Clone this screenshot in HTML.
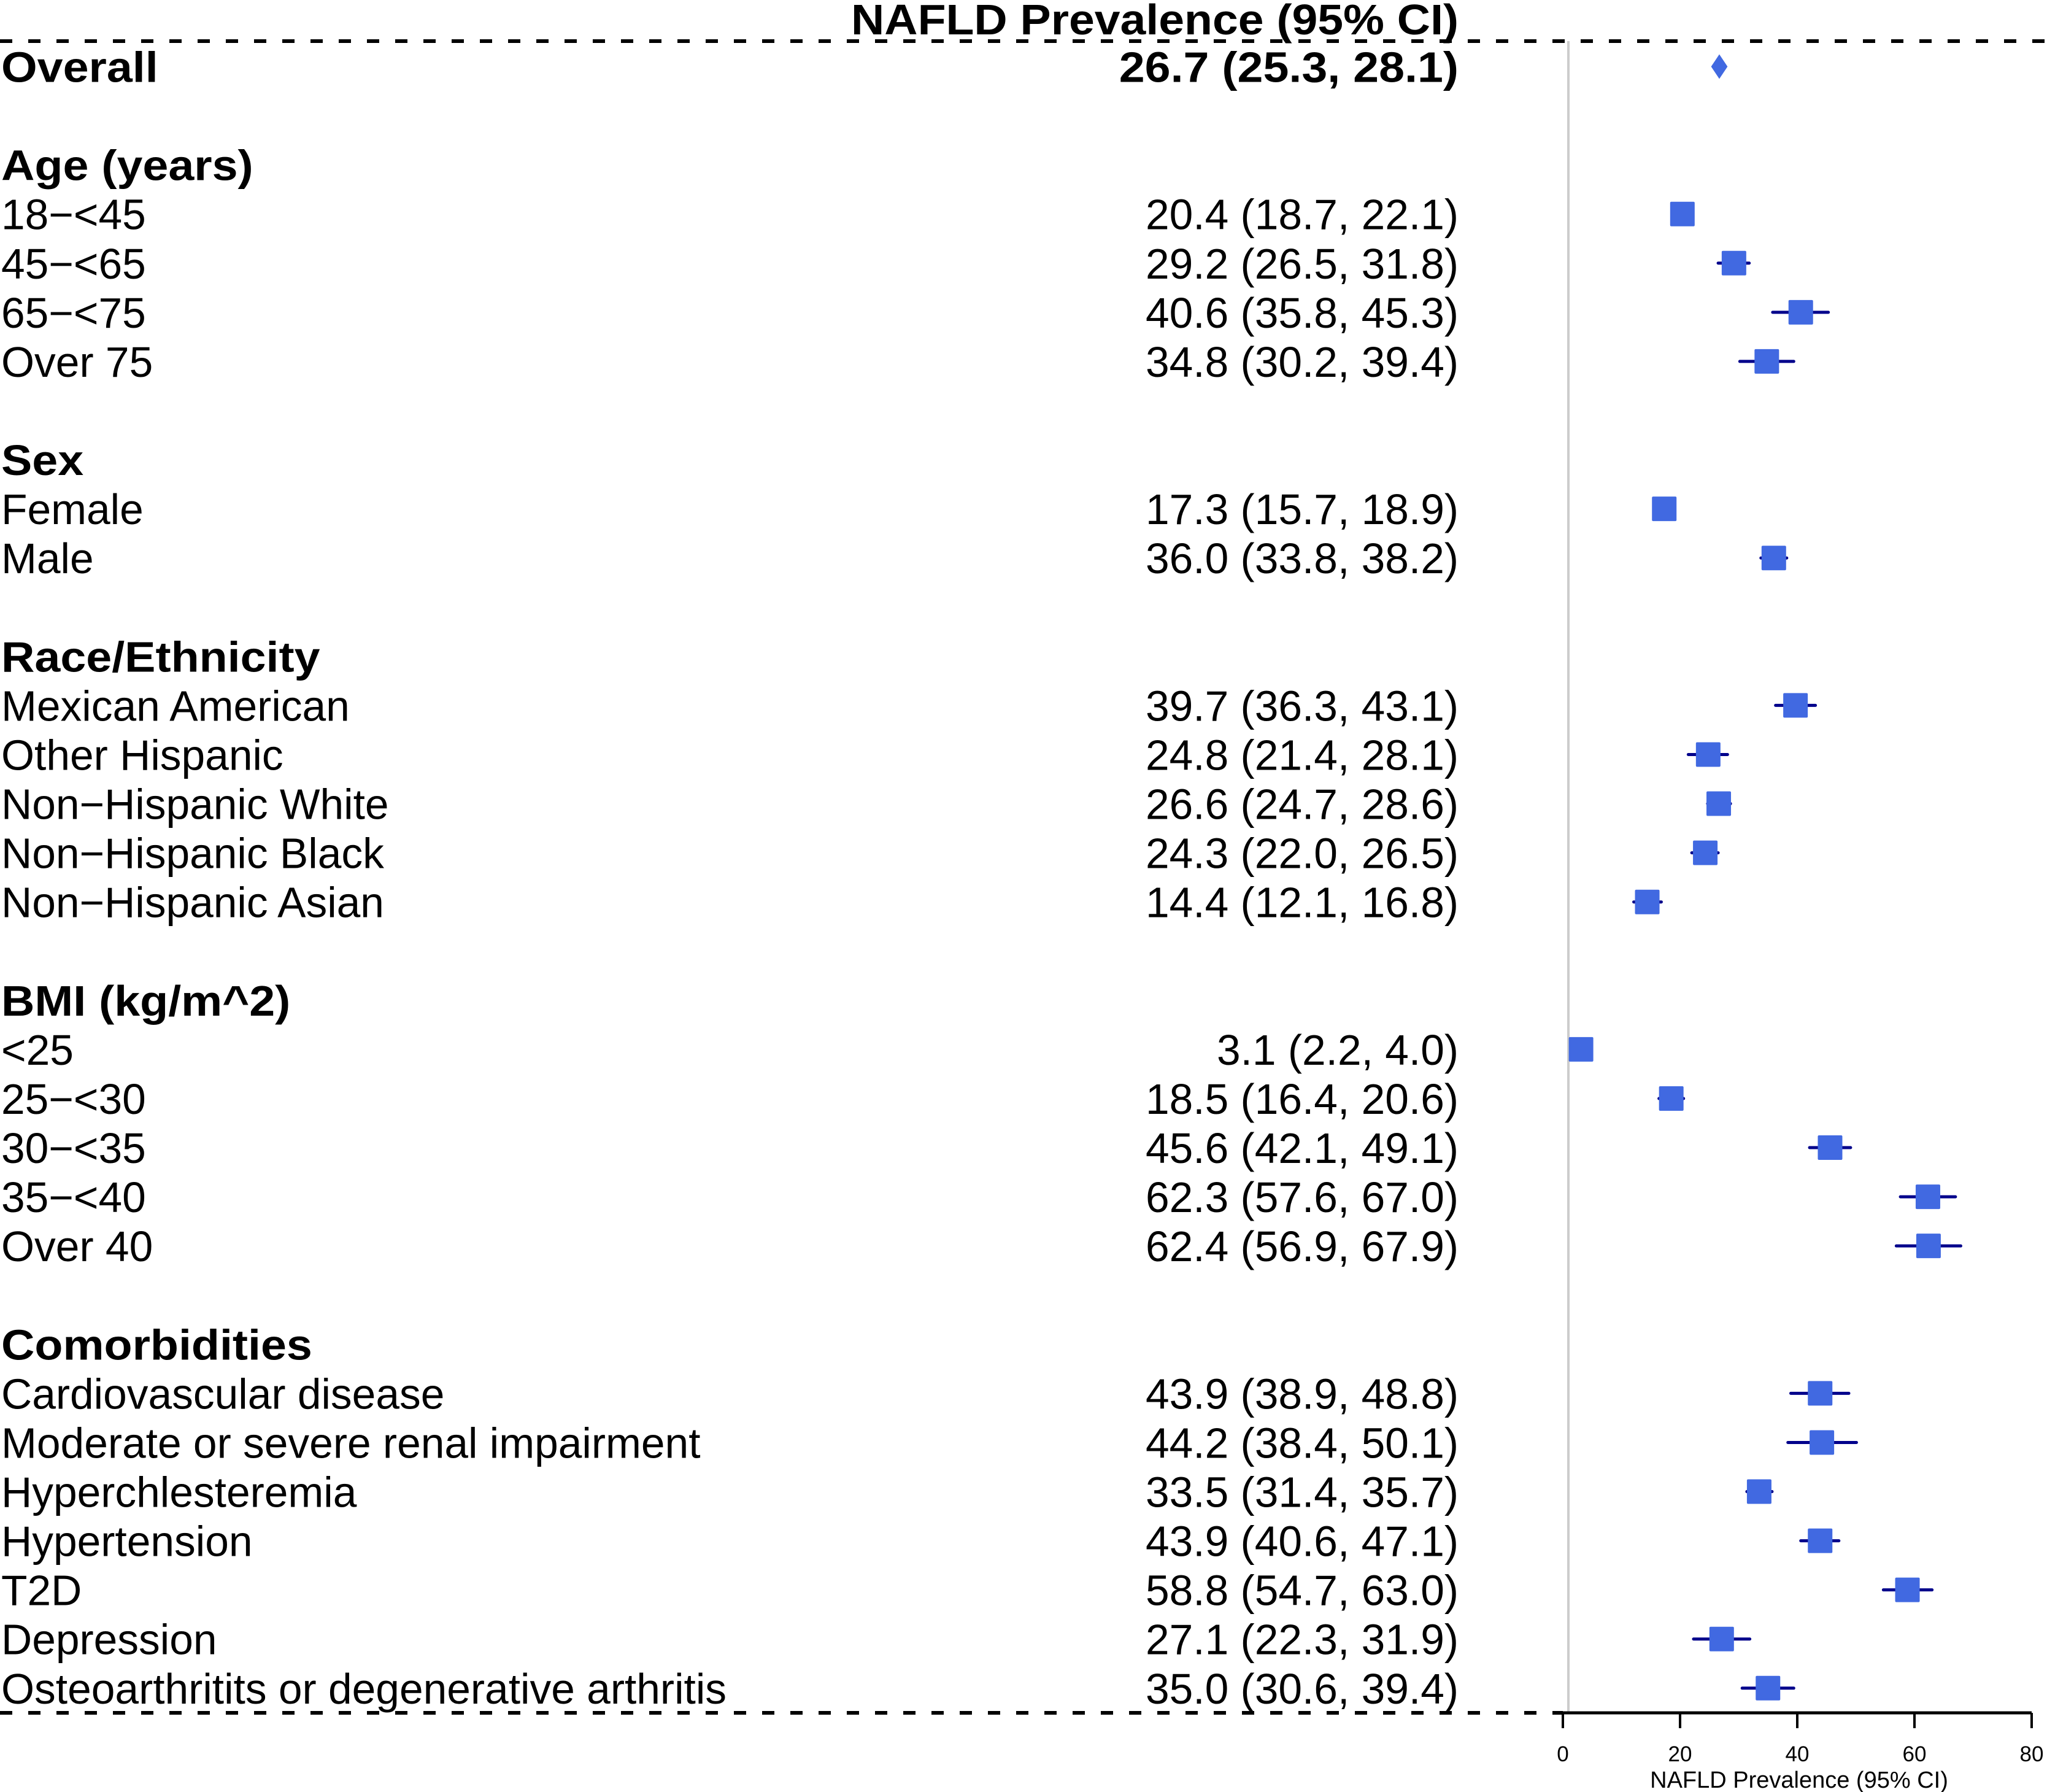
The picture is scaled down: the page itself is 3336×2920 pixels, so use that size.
<!DOCTYPE html>
<html><head><meta charset="utf-8"><style>
html,body{margin:0;padding:0;background:#fff;}
svg{display:block;font-family:"Liberation Sans",Arial,sans-serif;}
</style></head><body>
<svg id="chart" width="3336" height="2920" viewBox="0 0 3336 2920" xmlns="http://www.w3.org/2000/svg">
<text x="2377" y="56" text-anchor="end" font-size="70" font-weight="bold" textLength="990" lengthAdjust="spacingAndGlyphs">NAFLD Prevalence (95% CI)</text>
<line x1="0" y1="67" x2="3336" y2="67" stroke="#000" stroke-width="6" stroke-dasharray="20 26"/>
<line x1="0" y1="2791" x2="2547" y2="2791" stroke="#000" stroke-width="6" stroke-dasharray="20 26"/>
<line x1="2556" y1="67" x2="2556" y2="2791" stroke="#cccccc" stroke-width="4"/>
<g id="rows"></g>
<g id="marks"></g>
<g id="axis"></g>
<text x="2932" y="2913" text-anchor="middle" font-size="38">NAFLD Prevalence (95% CI)</text>
</svg>
<script>
const labels = ["Overall","","Age (years)","18\u2212<45","45\u2212<65","65\u2212<75","Over 75","","Sex","Female","Male","","Race/Ethnicity","Mexican American","Other Hispanic","Non\u2212Hispanic White","Non\u2212Hispanic Black","Non\u2212Hispanic Asian","","BMI (kg/m^2)","<25","25\u2212<30","30\u2212<35","35\u2212<40","Over 40","","Comorbidities","Cardiovascular disease","Moderate or severe renal impairment","Hyperchlesteremia","Hypertension","T2D","Depression","Osteoarthritits or degenerative arthritis"];
const boldRows = [0,2,8,12,19,26];
const estimates = [26.7,null,null,20.4,29.2,40.6,34.8,null,null,17.3,36.0,null,null,39.7,24.8,26.6,24.3,14.4,null,null,3.1,18.5,45.6,62.3,62.4,null,null,43.9,44.2,33.5,43.9,58.8,27.1,35.0];
const lower = [25.3,null,null,18.7,26.5,35.8,30.2,null,null,15.7,33.8,null,null,36.3,21.4,24.7,22.0,12.1,null,null,2.2,16.4,42.1,57.6,56.9,null,null,38.9,38.4,31.4,40.6,54.7,22.3,30.6];
const upper = [28.1,null,null,22.1,31.8,45.3,39.4,null,null,18.9,38.2,null,null,43.1,28.1,28.6,26.5,16.8,null,null,4.0,20.6,49.1,67.0,67.9,null,null,48.8,50.1,35.7,47.1,63.0,31.9,39.4];
const xTicks = [0,20,40,60,80];

const NS="http://www.w3.org/2000/svg";
const X0=2547, X1=3311, XMAX=80;
const xs = v => X0 + v*(X1-X0)/XMAX;
const ys = i => 108.5 + i*80.07;
function mk(tag, attrs, parent){const e=document.createElementNS(NS,tag);for(const k in attrs)e.setAttribute(k,attrs[k]);parent.appendChild(e);return e;}
const rowsG=document.getElementById('rows'), marksG=document.getElementById('marks'), axisG=document.getElementById('axis');
const fmt = v => v.toFixed(1);
labels.forEach((lab,i)=>{
  if(!lab) return;
  const bold = boldRows.includes(i);
  const t = mk('text',{x:2,y:ys(i)+25,'font-size':69.5,'font-weight':bold?'bold':'normal'},rowsG);
  if(bold) t.setAttribute('transform',`translate(2 0) scale(1.085 1) translate(-2 0)`);
  t.textContent=lab;
  
  
  if(estimates[i]!==null){
    const v = mk('text',{x:2377,y:ys(i)+25,'font-size':69.5,'text-anchor':'end','font-weight':bold?'bold':'normal'},rowsG);
    if(bold) v.setAttribute('transform',`translate(2377 0) scale(1.085 1) translate(-2377 0)`);
    v.textContent = fmt(estimates[i])+' ('+fmt(lower[i])+', '+fmt(upper[i])+')';
    
    
  }
});
estimates.forEach((e,i)=>{
  if(e===null) return;
  const y=ys(i);
  if(i===0){
    const p = mk('polygon',{points:`${xs(lower[i])},${y} ${xs(e)},${y-20} ${xs(upper[i])},${y} ${xs(e)},${y+20}`,fill:'#4169E1'},marksG);
    
    
    return;
  }
  const l = mk('line',{x1:xs(lower[i]),y1:y,x2:xs(upper[i]),y2:y,stroke:'#00008B','stroke-width':5,'stroke-linecap':'round'},marksG);
  
  
  const r = mk('rect',{x:xs(e)-20,y:y-20,width:40,height:40,rx:2,fill:'#4169E1'},marksG);
  
  
});
const ax = mk('line',{x1:X0,y1:2791,x2:X1,y2:2791,stroke:'#000','stroke-width':5},axisG);


xTicks.forEach(t=>{
  const tk = mk('line',{x1:xs(t),y1:2791,x2:xs(t),y2:2816,stroke:'#000','stroke-width':4},axisG);
  
  
  const tl = mk('text',{x:xs(t),y:2870,'font-size':35,'text-anchor':'middle'},axisG);
  tl.textContent=t;
  
  
});
</script>
</body></html>
